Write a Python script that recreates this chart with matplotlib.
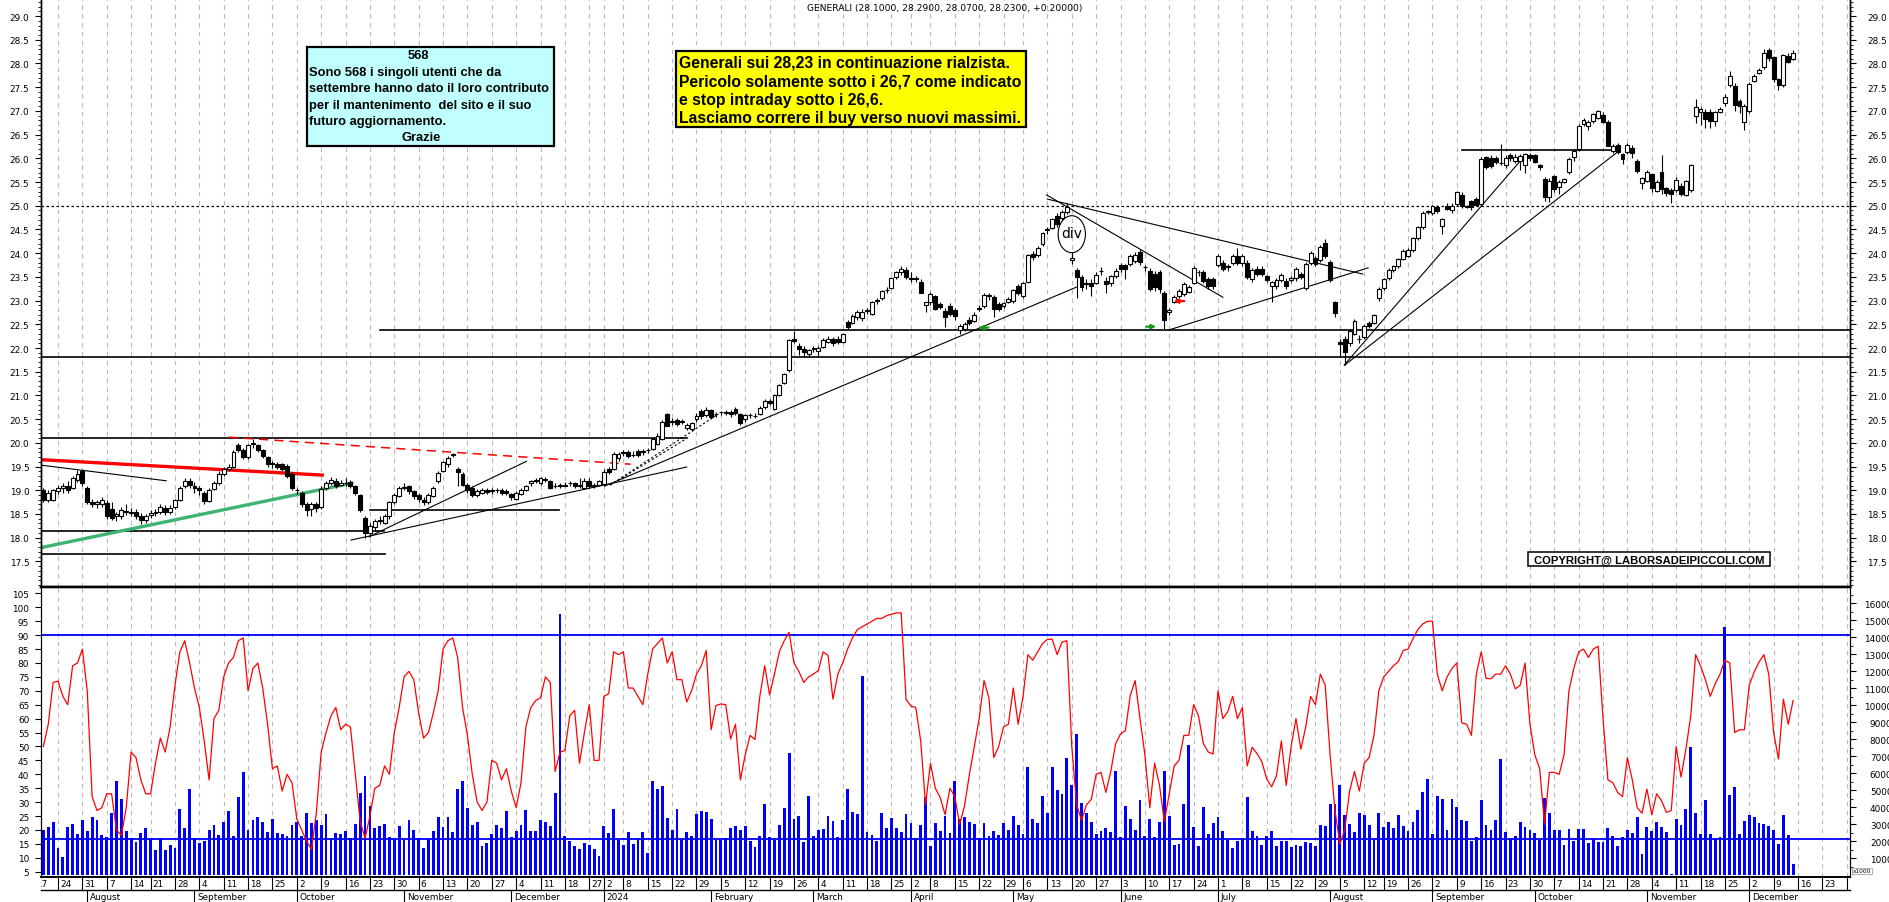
import numpy as np
import pandas as pd
import matplotlib
matplotlib.use("Agg")
import matplotlib.pyplot as plt
import matplotlib.transforms as mtransforms
from matplotlib import font_manager
from matplotlib.patches import Ellipse, Rectangle
from matplotlib.lines import Line2D

# ---------------- data ----------------
holidays = ["2023-08-15", "2023-12-25", "2023-12-26", "2024-01-01", "2024-03-29",
            "2024-04-01", "2024-05-01", "2024-08-15"]

# one row per week, Jul 19 2023 -> Dec 13 2024
opens = [
    19.00, 18.80, 18.80,
    18.98, 19.05, 19.10, 19.05, 19.22,
    19.40, 19.05, 18.75, 18.70, 18.72,
    18.74, 18.60, 18.45, 18.45, 18.55,
    18.55, 18.55, 18.45, 18.38,
    18.48, 18.52, 18.55, 18.62, 18.55,
    18.65, 18.80, 19.08, 19.20, 19.10,
    19.05, 18.95, 18.78, 19.02, 19.15,
    19.35, 19.45, 19.50, 19.95, 19.85,
    19.70, 19.98, 19.95, 19.85, 19.70,
    19.58, 19.55, 19.55, 19.52, 19.35,
    19.00, 18.95, 18.72, 18.60, 18.72,
    18.65, 19.05, 19.15, 19.20, 19.12,
    19.15, 19.18, 19.10, 18.90, 18.42,
    18.10, 18.22, 18.35, 18.32, 18.45,
    18.75, 18.88, 19.05, 19.10, 18.98,
    18.90, 18.80, 18.75, 18.88, 19.20,
    19.40, 19.55, 19.75, 19.45, 19.35,
    19.12, 19.05, 18.90, 18.95, 19.00,
    18.98, 19.00, 19.00, 18.98, 18.92,
    18.82, 18.92, 19.00, 19.15, 19.20,
    19.15, 19.22, 19.20, 19.08, 19.10,
    19.10, 19.15, 19.15, 19.08, 19.05,
    19.20, 19.10, 19.12,
    19.13, 19.45, 19.45, 19.68,
    19.78, 19.80, 19.74, 19.82, 19.80,
    19.84, 19.87, 19.98, 20.08, 20.60,
    20.44, 20.48, 20.44, 20.32, 20.30,
    20.50, 20.68, 20.58, 20.70, 20.60,
    20.64, 20.63, 20.65, 20.72, 20.60,
    20.50, 20.58, 20.56, 20.60, 20.75,
    20.88, 20.72, 21.00, 21.27, 21.54,
    22.20, 22.05, 21.98, 21.88, 21.97,
    21.93, 22.02, 22.13, 22.20, 22.20,
    22.12, 22.55, 22.52, 22.65, 22.63,
    22.78, 22.72, 23.00, 23.05, 23.22,
    23.27, 23.50, 23.60, 23.65,
    23.45, 23.47, 23.40, 22.90,
    22.96, 23.10, 22.93, 22.79, 22.89,
    22.80, 22.37, 22.40, 22.60, 22.58,
    22.85, 22.89, 23.10, 23.08, 22.93,
    22.89, 22.98, 23.00, 23.30,
    23.09, 23.40, 23.98, 23.96, 24.19,
    24.48, 24.54, 24.79, 24.75, 24.86,
    23.86, 23.64, 23.49, 23.36, 23.38,
    23.38, 23.62, 23.42, 23.38, 23.52,
    23.75, 23.75, 23.77, 23.84, 24.02,
    23.70, 23.63, 23.56, 23.60, 23.17,
    22.76, 22.98, 23.10, 23.14, 23.19,
    23.38, 23.60, 23.61, 23.45, 23.45,
    23.74, 23.79, 23.70, 23.80, 23.95,
    23.79, 23.80, 23.45, 23.67, 23.67,
    23.51, 23.31, 23.30, 23.43, 23.42,
    23.43, 23.47, 23.56, 23.26, 23.79,
    23.90, 23.86, 24.21, 23.81, 22.96,
    22.12, 22.19, 22.10, 22.30, 22.20,
    22.23, 22.53, 22.53, 23.05,
    23.26, 23.47, 23.64, 23.72, 23.88,
    23.95, 24.06, 24.32, 24.56, 24.86,
    24.85, 24.97, 24.58, 25.00, 24.90,
    25.04, 25.23, 24.98, 25.10, 25.14,
    25.04, 26.02, 26.00, 26.00, 25.90,
    25.85, 26.07, 25.95, 25.95, 25.85,
    26.07, 26.07, 25.85, 25.56, 25.18,
    25.62, 25.39, 25.51, 25.72, 26.02,
    26.20, 26.72, 26.68, 26.79, 26.86,
    26.91, 26.77, 26.16, 26.28, 26.09,
    26.14, 26.21, 25.94, 25.48, 25.53,
    25.67, 25.32, 25.72, 25.37, 25.34,
    25.34, 25.42, 25.23, 25.34, 26.90,
    26.98, 26.98, 26.97, 26.79, 26.98,
    27.17, 27.55, 27.52, 27.20, 26.77,
    27.00, 27.64, 27.81, 27.92, 28.29,
    28.13, 27.67, 27.55, 28.16, 28.10,
]
highs = [
    19.05, 19.00, 19.02,
    19.12, 19.15, 19.20, 19.30, 19.42,
    19.42, 19.08, 18.82, 18.80, 18.85,
    18.80, 18.75, 18.55, 18.65, 18.70,
    18.62, 18.60, 18.52, 18.50,
    18.58, 18.60, 18.72, 18.68, 18.68,
    18.82, 19.10, 19.25, 19.25, 19.18,
    19.10, 18.98, 19.05, 19.20, 19.40,
    19.50, 19.55, 19.85, 20.00, 19.90,
    19.98, 20.08, 19.98, 19.88, 19.72,
    19.62, 19.60, 19.58, 19.55, 19.38,
    19.05, 18.98, 18.75, 18.75, 18.75,
    19.08, 19.20, 19.28, 19.25, 19.22,
    19.25, 19.22, 19.12, 18.92, 18.45,
    18.30, 18.40, 18.45, 18.50, 18.78,
    18.95, 19.08, 19.15, 19.12, 19.00,
    18.95, 18.85, 18.95, 19.08, 19.40,
    19.62, 19.72, 19.78, 19.50, 19.38,
    19.15, 19.08, 19.02, 19.05, 19.05,
    19.05, 19.05, 19.05, 19.02, 18.95,
    18.98, 19.05, 19.12, 19.22, 19.25,
    19.28, 19.28, 19.22, 19.15, 19.15,
    19.18, 19.20, 19.18, 19.25, 19.25,
    19.25, 19.15, 19.22,
    19.45, 19.50, 19.80, 19.80,
    19.85, 19.85, 19.82, 19.86, 19.88,
    19.90, 20.12, 20.20, 20.48, 20.62,
    20.52, 20.52, 20.50, 20.42, 20.45,
    20.62, 20.72, 20.75, 20.72, 20.65,
    20.68, 20.70, 20.70, 20.75, 20.62,
    20.60, 20.62, 20.62, 20.78, 20.92,
    20.92, 21.02, 21.25, 21.48, 22.20,
    22.35, 22.10, 22.05, 21.98, 22.05,
    22.05, 22.22, 22.25, 22.24, 22.25,
    22.32, 22.60, 22.72, 22.80, 22.82,
    22.84, 23.00, 23.05, 23.22, 23.28,
    23.50, 23.62, 23.73, 23.70,
    23.60, 23.52, 23.45, 22.98,
    23.18, 23.12, 22.98, 22.85, 22.95,
    22.85, 22.50, 22.55, 22.65, 22.75,
    22.90, 23.15, 23.15, 23.12, 22.98,
    22.98, 23.08, 23.25, 23.35,
    23.40, 23.98, 24.05, 24.15, 24.45,
    24.55, 24.75, 24.85, 24.90, 25.05,
    23.98, 23.68, 23.55, 23.45, 23.45,
    23.60, 23.70, 23.50, 23.55, 23.68,
    23.80, 23.78, 23.98, 24.02, 24.08,
    23.75, 23.68, 23.62, 23.65, 23.20,
    22.85, 23.12, 23.25, 23.40, 23.32,
    23.72, 23.65, 23.65, 23.50, 23.50,
    23.98, 23.85, 23.78, 23.98, 24.10,
    23.98, 23.85, 23.68, 23.72, 23.72,
    23.55, 23.42, 23.48, 23.58, 23.48,
    23.52, 23.70, 23.60, 23.82, 24.05,
    23.95, 24.18, 24.30, 23.85, 23.00,
    22.20, 22.25, 22.40, 22.62, 22.28,
    22.50, 22.58, 22.72, 23.28,
    23.48, 23.68, 23.75, 23.90, 24.08,
    24.10, 24.35, 24.58, 24.88, 24.92,
    25.02, 25.02, 24.75, 25.05, 25.05,
    25.32, 25.28, 25.02, 25.12, 25.18,
    26.02, 26.05, 26.08, 26.05, 26.30,
    26.08, 26.12, 26.10, 26.10, 26.12,
    26.12, 26.10, 25.88, 25.60, 25.58,
    25.65, 25.55, 25.58, 26.02, 26.20,
    26.72, 26.85, 26.80, 26.95, 27.02,
    26.98, 26.80, 26.30, 26.32, 26.12,
    26.32, 26.28, 25.98, 25.60, 25.75,
    25.70, 25.55, 26.08, 25.40, 25.38,
    25.60, 25.48, 25.55, 25.88, 27.25,
    27.08, 27.05, 27.05, 27.00, 27.08,
    27.35, 27.85, 27.58, 27.25, 27.15,
    27.62, 27.78, 27.90, 28.30, 28.32,
    28.15, 27.70, 28.20, 28.22, 28.29,
]
lows = [
    18.75, 18.75, 18.78,
    18.92, 18.95, 18.95, 19.02, 19.18,
    19.10, 18.70, 18.65, 18.62, 18.65,
    18.40, 18.38, 18.35, 18.40, 18.48,
    18.45, 18.40, 18.28, 18.30,
    18.42, 18.45, 18.50, 18.48, 18.50,
    18.60, 18.78, 19.05, 19.05, 18.95,
    18.90, 18.70, 18.75, 19.00, 19.12,
    19.30, 19.40, 19.48, 19.80, 19.65,
    19.65, 19.90, 19.80, 19.68, 19.50,
    19.48, 19.45, 19.40, 19.25, 19.00,
    18.92, 18.65, 18.45, 18.45, 18.55,
    18.60, 19.00, 19.12, 19.05, 19.08,
    19.10, 19.05, 18.90, 18.55, 18.00,
    18.02, 18.15, 18.28, 18.28, 18.40,
    18.70, 18.85, 19.00, 18.92, 18.82,
    18.75, 18.68, 18.72, 18.85, 19.15,
    19.38, 19.50, 19.70, 19.10, 19.10,
    18.95, 18.85, 18.85, 18.92, 18.92,
    18.92, 18.95, 18.90, 18.90, 18.80,
    18.80, 18.90, 18.98, 19.10, 19.15,
    19.12, 19.18, 19.02, 19.05, 19.05,
    19.08, 19.10, 19.05, 19.05, 19.02,
    19.05, 19.05, 19.08,
    19.10, 19.35, 19.42, 19.62,
    19.72, 19.68, 19.70, 19.70, 19.75,
    19.78, 19.85, 19.95, 20.05, 20.35,
    20.38, 20.35, 20.40, 20.28, 20.25,
    20.45, 20.50, 20.55, 20.50, 20.55,
    20.58, 20.58, 20.55, 20.58, 20.38,
    20.45, 20.52, 20.52, 20.58, 20.72,
    20.80, 20.70, 20.98, 21.25, 21.50,
    22.10, 21.85, 21.80, 21.80, 21.92,
    21.80, 22.00, 22.10, 22.05, 22.08,
    22.10, 22.40, 22.50, 22.60, 22.58,
    22.72, 22.70, 22.92, 23.02, 23.15,
    23.25, 23.45, 23.55, 23.45,
    23.40, 23.40, 23.15, 22.75,
    22.90, 22.80, 22.82, 22.45, 22.68,
    22.60, 22.30, 22.35, 22.48, 22.55,
    22.78, 22.85, 23.02, 22.65, 22.78,
    22.85, 22.95, 22.95, 23.12,
    23.05, 23.38, 23.85, 23.92, 24.15,
    24.40, 24.50, 24.55, 24.70, 24.82,
    23.78, 23.05, 23.20, 23.25, 23.10,
    23.35, 23.55, 23.15, 23.30, 23.48,
    23.60, 23.45, 23.72, 23.80, 23.75,
    23.62, 23.20, 23.20, 23.15, 22.38,
    22.70, 22.95, 23.05, 23.10, 23.15,
    23.35, 23.52, 23.38, 23.25, 23.25,
    23.70, 23.62, 23.62, 23.75, 23.75,
    23.72, 23.45, 23.40, 23.52, 23.52,
    23.40, 22.98, 23.25, 23.40, 23.25,
    23.40, 23.42, 23.45, 23.22, 23.75,
    23.72, 23.82, 23.90, 23.40, 22.65,
    21.80, 21.65, 22.05, 22.28, 22.10,
    22.20, 22.42, 22.50, 23.00,
    23.22, 23.44, 23.60, 23.68, 23.85,
    23.92, 24.02, 24.28, 24.52, 24.82,
    24.80, 24.85, 24.40, 24.90, 24.85,
    25.00, 24.95, 24.95, 24.92, 25.00,
    25.00, 25.78, 25.80, 25.88, 25.85,
    25.80, 25.95, 25.90, 25.75, 25.70,
    25.95, 25.90, 25.75, 25.10, 25.08,
    25.30, 25.25, 25.48, 25.68, 25.95,
    26.15, 26.68, 26.60, 26.75, 26.82,
    26.75, 26.25, 26.12, 26.10, 25.88,
    26.10, 26.00, 25.70, 25.35, 25.50,
    25.30, 25.28, 25.25, 25.20, 25.05,
    25.30, 25.20, 25.20, 25.30, 26.75,
    26.70, 26.65, 26.65, 26.68, 26.95,
    27.10, 27.50, 27.00, 26.95, 26.60,
    26.95, 27.60, 27.78, 27.88, 28.05,
    27.62, 27.45, 27.50, 28.00, 28.07,
]
closes = [
    18.80, 18.95, 19.00,
    19.05, 19.10, 19.00, 19.25, 19.35,
    19.15, 18.75, 18.72, 18.75, 18.80,
    18.46, 18.42, 18.50, 18.58, 18.55,
    18.52, 18.45, 18.38, 18.45,
    18.52, 18.55, 18.65, 18.55, 18.62,
    18.80, 19.05, 19.20, 19.12, 19.05,
    19.00, 18.78, 19.00, 19.15, 19.35,
    19.45, 19.50, 19.80, 19.85, 19.70,
    19.95, 20.00, 19.85, 19.72, 19.55,
    19.55, 19.50, 19.45, 19.30, 19.05,
    19.00, 18.72, 18.58, 18.70, 18.62,
    19.03, 19.15, 19.22, 19.10, 19.15,
    19.15, 19.10, 18.95, 18.58, 18.10,
    18.25, 18.35, 18.38, 18.45, 18.75,
    18.90, 19.05, 19.05, 18.98, 18.88,
    18.82, 18.75, 18.90, 19.05, 19.37,
    19.60, 19.68, 19.75, 19.38, 19.12,
    19.00, 18.90, 18.98, 19.00, 18.97,
    19.00, 19.00, 18.95, 18.95, 18.85,
    18.95, 19.00, 19.10, 19.20, 19.22,
    19.25, 19.22, 19.05, 19.10, 19.10,
    19.12, 19.15, 19.10, 19.12, 19.20,
    19.10, 19.12, 19.20,
    19.38, 19.38, 19.77, 19.77,
    19.80, 19.72, 19.75, 19.75, 19.82,
    19.85, 20.08, 20.15, 20.43, 20.36,
    20.45, 20.40, 20.45, 20.37, 20.42,
    20.56, 20.56, 20.70, 20.55, 20.60,
    20.65, 20.65, 20.60, 20.62, 20.42,
    20.58, 20.58, 20.57, 20.73, 20.88,
    20.85, 21.00, 21.22, 21.45, 22.16,
    22.15, 21.97, 21.92, 21.95, 21.99,
    22.00, 22.17, 22.20, 22.10, 22.12,
    22.30, 22.44, 22.67, 22.75, 22.76,
    22.78, 22.98, 23.00, 23.20, 23.23,
    23.47, 23.60, 23.67, 23.50,
    23.48, 23.45, 23.17, 22.96,
    23.13, 22.83, 22.86, 22.65, 22.72,
    22.68, 22.46, 22.50, 22.53, 22.70,
    22.82, 23.12, 23.10, 22.82, 22.82,
    22.95, 23.03, 23.23, 23.17,
    23.37, 23.96, 23.91, 24.10, 24.42,
    24.50, 24.72, 24.61, 24.87, 24.97,
    23.90, 23.49, 23.28, 23.38, 23.30,
    23.55, 23.63, 23.35, 23.52, 23.63,
    23.67, 23.67, 23.93, 23.96, 23.81,
    23.70, 23.24, 23.28, 23.24, 22.60,
    22.80, 23.07, 23.21, 23.35, 23.28,
    23.68, 23.60, 23.42, 23.31, 23.30,
    23.95, 23.66, 23.72, 23.95, 23.79,
    23.93, 23.50, 23.64, 23.57, 23.57,
    23.43, 23.39, 23.44, 23.54, 23.30,
    23.48, 23.66, 23.50, 23.78, 24.00,
    23.78, 24.13, 23.93, 23.44, 22.74,
    22.08, 21.91, 22.35, 22.58, 22.18,
    22.47, 22.47, 22.70, 23.24,
    23.45, 23.64, 23.72, 23.88, 24.04,
    24.07, 24.32, 24.55, 24.85, 24.88,
    25.00, 24.88, 24.72, 24.93, 25.00,
    25.30, 25.00, 24.98, 24.97, 25.02,
    25.98, 25.81, 25.83, 25.92, 25.90,
    26.00, 26.00, 26.02, 26.05, 26.10,
    26.00, 25.92, 25.82, 25.18, 25.53,
    25.35, 25.51, 25.56, 25.99, 26.16,
    26.69, 26.80, 26.76, 26.93, 27.00,
    26.77, 26.27, 26.27, 26.13, 25.99,
    26.28, 26.11, 25.74, 25.58, 25.71,
    25.37, 25.51, 25.35, 25.27, 25.25,
    25.55, 25.25, 25.53, 25.85, 27.08,
    27.04, 26.83, 26.79, 26.97, 27.04,
    27.29, 27.73, 27.12, 27.11, 27.10,
    27.57, 27.73, 27.87, 28.23, 28.11,
    27.67, 27.55, 28.18, 28.03, 28.23,
]

# oscillator (left scale of the lower panel)
oscillator = [
    50, 58, 73,
    73.5, 68, 65, 79, 80,
    85, 70, 32, 27, 28,
    33, 33, 20, 18, 28,
    48, 46, 38, 33,
    33, 44, 53, 48, 57,
    72, 84, 88, 80, 71,
    64, 52, 38, 60, 63,
    75, 80, 82, 88, 89,
    70, 78, 80, 71, 58,
    42, 43, 34, 40, 37,
    24, 20, 16, 13, 26,
    48, 55, 61, 64, 56,
    58, 57, 40, 23, 17,
    25, 35, 36, 43, 40,
    55, 64, 75, 77, 74,
    62, 53, 55, 62, 70,
    85, 88, 89, 82, 64,
    54, 40, 30, 27, 30,
    45, 44, 38, 42, 34,
    28, 37, 57, 64, 66.5,
    67.5, 75, 73, 41, 48,
    48.5, 61, 63, 44, 55,
    65, 45, 45,
    68, 69, 84, 83,
    84, 71, 71, 68, 65,
    76, 85, 87, 89, 80,
    84, 74, 74, 66, 70,
    76, 79, 84.5, 56, 64.7,
    65.3, 65, 52.7, 58, 38,
    47, 54, 52.5, 68, 79,
    68.5, 76, 84, 88, 91,
    80, 77, 73, 75, 76,
    77.3, 84, 82.7, 67, 76,
    80, 85, 89, 92, 93,
    94, 95, 96, 96, 97,
    97.5, 98, 98, 67,
    64.5, 64, 52, 29,
    44, 35, 31.7, 25.5, 35,
    32, 22, 28.7, 40, 50,
    60, 73.7, 67.5, 46, 50,
    57, 58, 71, 58,
    68, 83, 81, 84, 87,
    88.5, 88.5, 83, 87.5, 88,
    50, 29, 23.5, 29, 31,
    40, 40.7, 33.5, 41, 51,
    54.5, 55.7, 68.3, 73.7, 60,
    47, 28, 44, 36, 23,
    33, 43, 45, 54, 54,
    65, 61, 51, 48, 47.3,
    70, 60, 62.5, 68, 60,
    64, 43, 49.7, 47.5, 44.5,
    38.3, 35.5, 39.5, 52, 36,
    50, 60, 49, 57, 68,
    65, 76, 72, 47, 27,
    15, 20, 34, 41, 34,
    44, 46, 54, 70,
    75, 77, 79, 80.5, 84.5,
    85, 88.7, 92, 94, 95,
    95, 76, 70, 75, 78,
    80, 58.5, 58, 54, 76,
    84, 74.5, 74.3, 76, 76,
    79, 76, 70.7, 72, 80,
    58, 47, 42, 22, 40.7,
    40.7, 40, 47, 70, 78,
    84, 85, 82, 85, 86,
    60, 38, 37, 33.5, 32,
    46, 38, 28, 26, 34.7,
    25.5, 33, 30.5, 26.3, 27,
    50, 39, 49, 61, 83,
    79, 74, 68, 72.5, 76,
    81, 80, 55, 56, 56,
    72, 76.7, 80.3, 83, 76,
    55, 45.5, 67, 58, 66.5,
]

# volume, millions of shares (right scale shows thousands)
volume_m = [
    2.70, 2.86, 3.17,
    1.62, 1.07, 2.86, 3.01, 2.43,
    3.25, 2.63, 3.44, 3.25, 2.35,
    2.28, 3.69, 5.53, 4.50, 2.63,
    2.18, 1.99, 2.47, 2.78,
    2.12, 1.52, 2.12, 1.50, 1.81,
    1.62, 3.90, 2.82, 5.09, 2.18,
    1.89, 2.00, 2.65, 2.97, 2.35,
    3.17, 3.79, 2.30, 4.60, 6.11,
    2.68, 3.25, 3.46, 3.17, 2.53,
    3.34, 2.47, 2.41, 2.34, 2.97,
    3.17, 2.34, 3.69, 3.09, 3.27,
    2.96, 3.63, 2.18, 2.49, 2.41,
    2.63, 2.18, 3.05, 4.86, 5.84,
    4.08, 2.80, 2.90, 3.01, 2.28,
    2.14, 2.90, 2.06, 3.25, 2.67,
    2.18, 1.60, 2.12, 2.59, 3.44,
    2.86, 3.44, 2.57, 5.07, 5.53,
    3.94, 2.97, 3.17, 1.75, 1.89,
    2.43, 2.97, 2.82, 3.79, 2.24,
    2.59, 2.97, 3.83, 2.63, 2.63,
    3.25, 3.17, 2.92, 4.86, 15.40,
    2.34, 2.00, 1.75, 1.56, 1.89,
    1.81, 1.56, 1.13,
    2.88, 2.47, 3.90, 2.08,
    1.81, 2.57, 1.85, 2.18, 2.53,
    1.31, 5.53, 5.09, 5.28, 3.40,
    2.66, 3.89, 2.10, 2.53, 2.34,
    3.63, 3.79, 3.73, 3.30, 2.10,
    2.10, 2.18, 2.78, 2.92, 2.66,
    2.92, 2.00, 1.66, 2.34, 4.18,
    2.28, 2.08, 2.97, 3.94, 7.18,
    3.30, 3.50, 1.99, 4.66, 2.34,
    2.66, 2.72, 3.50, 3.19, 2.24,
    3.25, 5.09, 3.75, 3.59, 11.70,
    2.53, 2.39, 2.00, 3.65, 2.78,
    3.38, 2.82, 2.57, 3.63,
    3.07, 2.18, 2.97, 4.60,
    1.75, 3.09, 2.63, 3.50, 2.47,
    5.53, 3.30, 3.44, 3.15, 3.01,
    2.18, 3.11, 2.30, 2.63, 2.37,
    3.11, 2.66, 3.50, 2.97,
    2.43, 6.37, 3.30, 3.07, 4.66,
    3.69, 6.37, 5.01, 4.80, 6.89,
    5.34, 8.34, 4.27, 3.69, 3.15,
    2.43, 2.63, 2.82, 2.57, 6.17,
    2.24, 4.08, 3.30, 2.68, 4.43,
    2.34, 3.30, 2.28, 3.15, 6.17,
    3.48, 1.81, 1.85, 4.18, 7.67,
    2.86, 1.75, 4.04, 2.43, 3.11,
    3.44, 2.63, 2.08, 1.62, 2.00,
    2.14, 4.60, 2.63, 2.30, 1.81,
    2.34, 2.63, 1.72, 2.04, 2.04,
    1.66, 1.81, 1.72, 1.95, 1.89,
    1.75, 2.97, 2.92, 4.23, 4.23,
    5.34, 3.56, 3.05, 2.57, 3.69,
    3.56, 2.97, 2.10, 3.69,
    2.86, 3.15, 2.82, 3.56, 2.92,
    2.63, 3.17, 3.85, 4.91, 5.69,
    2.43, 4.66, 4.50, 2.68, 4.50,
    4.04, 3.27, 3.21, 2.04, 2.24,
    4.43, 2.97, 2.66, 3.25, 6.85,
    2.53, 2.14, 2.34, 3.17, 2.86,
    2.66, 2.47, 2.08, 4.56, 3.69,
    2.68, 2.68, 1.81, 2.72, 2.00,
    2.76, 2.76, 1.91, 2.14, 1.95,
    1.99, 2.82, 2.30, 1.75, 2.24,
    2.68, 2.49, 3.44, 1.27, 2.86,
    2.63, 3.15, 2.86, 2.53, 0.07,
    3.34, 2.96, 3.92, 7.57, 3.65,
    2.43, 4.43, 2.43, 2.14, 2.24,
    14.60, 4.76, 5.20, 2.43, 3.21,
    3.56, 3.46, 3.11, 3.01, 2.88,
    2.66, 1.85, 3.56, 2.37, 0.70,
]

# levels drawn on the chart: (price, from trading-day, to trading-day)
h_levels = [(22.38, 66.1, 368), (21.81, -4, 368), (20.10, -4, 129.0),
            (18.14, -4, 66.9), (17.65, -4, 67.0), (18.58, 64.0, 102.8),
            (26.18, 288.1, 319.9)]
# trend lines: (x0, p0, x1, p1)
black_lines = [(-3.5, 19.53, 22.2, 19.20), (60.1, 17.95, 129.0, 19.49),
               (63.8, 18.02, 96.1, 19.61), (112.2, 19.09, 209.1, 23.29),
               (202.8, 25.23, 239.0, 23.07), (203.0, 25.14, 267.7, 23.56),
               (227.9, 22.38, 268.8, 23.69), (263.9, 21.64, 299.8, 25.92),
               (264.0, 21.64, 320.3, 26.16)]
dashed_lines = [(113.3, 19.11, 128.8, 20.08), (113.3, 19.11, 135.2, 20.59)]
red_line = (-3.5, 19.645, 54.2, 19.32)
red_dashed = (35.0, 20.12, 117.5, 19.55)
green_line = (-3.5, 17.79, 60.3, 19.15)
osc_level = 90
vol_level = 2120

title = "GENERALI (28.1000, 28.2900, 28.0700, 28.2300, +0.20000)"
note_cyan = ["Sono 568 i singoli utenti che da",
             "settembre hanno dato il loro contributo",
             "per il mantenimento  del sito e il suo",
             "futuro aggiornamento."]
note_yellow = ["Generali sui 28,23 in continuazione rialzista.",
               "Pericolo solamente sotto i 26,7 come indicato",
               "e stop intraday sotto i 26,6.",
               "Lasciamo correre il buy verso nuovi massimi."]

# ---------------- calendar ----------------
days = pd.bdate_range("2023-07-19", "2024-12-13")
days = days[~days.isin(pd.to_datetime(holidays))]
future = pd.bdate_range("2024-12-16", "2024-12-31")
all_days = days.append(future)
n = len(closes)
x = np.arange(n) - 3
x_all = np.arange(len(all_days)) - 3

iso = all_days.isocalendar()
wk_key = iso["year"].astype(str) + "-" + iso["week"].astype(str)
week_first = ~wk_key.duplicated().values
week_pos = list(x_all[week_first].astype(float))
week_lab = [str(d.day) for d in all_days[week_first]]
# the first week starts before the data (Monday 17 July)
wd0 = all_days[0].weekday()
week_pos[0] -= wd0
week_lab[0] = str(all_days[0].day - wd0)

mon_key = all_days.strftime("%Y-%m")
mon_first = ~pd.Series(mon_key).duplicated().values
mon_first[0] = False
mon_pos = x_all[mon_first]
mon_lab = ["2024" if d.month == 1 else d.strftime("%B") for d in all_days[mon_first]]

# ---------------- figure ----------------
W, H = 1890, 903
fig = plt.figure(figsize=(W / 100, H / 100), dpi=100)
fig.patch.set_facecolor("white")

def fx(px):
    return px / W

def fy(py):
    return 1 - py / H

XL = (-3.488, 367.67)
ax = fig.add_axes([fx(41), fy(588), fx(1850) - fx(41), fy(0) - fy(588)])
axl = fig.add_axes([fx(41), fy(878), fx(1850) - fx(41), fy(588) - fy(878)])
axo = axl.twinx()
axr = ax.twinx()

tick_font = dict(family="DejaVu Sans", size=6.4)
names = {f.name for f in font_manager.fontManager.ttflist}
if "Liberation Sans Narrow" in names:
    cyan_font = dict(family="Liberation Sans Narrow", size=10.5, weight="bold")
else:
    cyan_font = dict(family="Liberation Sans", size=9.3, weight="bold")

grid_kw = dict(color="#b8b8b8", lw=0.8, ls=(0, (4, 4)), zorder=0)
for a in (ax, axl):
    for p in week_pos:
        a.axvline(p, **grid_kw)
    a.set_xlim(*XL)
    a.tick_params(axis="x", which="both", bottom=False, top=False,
                  labelbottom=False)
for a in (axo, axr):
    a.set_xlim(*XL)
    a.tick_params(axis="x", which="both", bottom=False, top=False,
                  labelbottom=False)

# ---- price panel ----
o = np.array(opens); h = np.array(highs); l = np.array(lows); c = np.array(closes)
up = c >= o
ax.vlines(x, l, h, color="black", lw=0.8, zorder=3)
ax.bar(x, np.maximum(np.abs(c - o), 0.012), bottom=np.minimum(o, c), width=0.8,
       color=np.where(up, "white", "black"), edgecolor="black", linewidth=0.8,
       zorder=4)

ax.axhline(25.0, color="black", lw=0.9, ls=(0, (2, 2)), zorder=2)
for p, a0, a1 in h_levels:
    ax.plot([a0, a1], [p, p], color="black", lw=1.2, zorder=2)
for x0, p0, x1, p1 in black_lines:
    ax.plot([x0, x1], [p0, p1], color="black", lw=0.8, zorder=2)
for x0, p0, x1, p1 in dashed_lines:
    ax.plot([x0, x1], [p0, p1], color="black", lw=0.8, ls=(0, (2, 2)), zorder=2)
ax.plot(red_line[0::2], red_line[1::2], color="#ff0000", lw=2.4, zorder=2)
ax.plot(red_dashed[0::2], red_dashed[1::2], color="#ff0000", lw=1.1,
        ls=(0, (6, 4)), zorder=2)
ax.plot(green_line[0::2], green_line[1::2], color="#3cb371", lw=2.4, zorder=2)

# div marker
ax.add_patch(Ellipse((208.0, 24.40), 5.6, 0.78, fill=False, ec="black", lw=0.8,
                     zorder=5))
ax.text(208.0, 24.42, "div", ha="center", va="center", fontsize=10,
        family="DejaVu Sans", zorder=6)
ax.plot([208.0, 208.0], [24.01, 23.93], color="black", lw=0.8, zorder=5)

arrow_kw = dict(arrowstyle="-|>", lw=1.6, mutation_scale=6, shrinkA=0, shrinkB=0)
ax.annotate("", xy=(188.9, 22.43), xytext=(190.9, 22.43),
            arrowprops=dict(color="#129a12", **arrow_kw), zorder=6)
ax.annotate("", xy=(225.3, 22.45), xytext=(223.3, 22.45),
            arrowprops=dict(color="#129a12", **arrow_kw), zorder=6)
ax.annotate("", xy=(228.9, 22.99), xytext=(231.1, 22.99),
            arrowprops=dict(color="#ff0000", **arrow_kw), zorder=6)

YL = (16.96, 29.36)
price_ticks = np.arange(17.5, 29.01, 0.5)
for a in (ax, axr):
    a.set_ylim(*YL)
    a.set_yticks(price_ticks)
    a.set_yticks(np.arange(17.0, 29.31, 0.1), minor=True)
    a.set_yticklabels(["%.1f" % v for v in price_ticks], **tick_font)
ax.tick_params(axis="y", which="major", direction="out", length=4, width=0.8,
               pad=4.5, left=True, right=False)
ax.tick_params(axis="y", which="minor", direction="out", length=2, width=0.6,
               left=True, right=False)
axr.tick_params(axis="y", which="major", direction="out", length=4, width=0.8,
                pad=8.5)
axr.tick_params(axis="y", which="minor", direction="out", length=2, width=0.6)
ax.spines["top"].set_visible(False)
axr.spines["top"].set_visible(False)
for a in (ax, axr):
    for s in ("left", "right"):
        a.spines[s].set_linewidth(1.0)
    a.spines["bottom"].set_linewidth(1.6)

# ---- lower panel ----
axl.bar(x, np.array(volume_m) * 1000, width=0.58, color="#0000ff", zorder=2)
axl.axhline(vol_level, color="#0000ff", lw=1.3, zorder=3)
axl.set_ylim(-90, 16960)
axl.yaxis.tick_right()
vt = np.arange(1000, 16001, 1000)
axl.set_yticks(vt)
axl.set_yticks(np.arange(500, 16501, 500), minor=True)
axl.set_yticklabels([str(v) for v in vt], ha="right", **tick_font)
axl.tick_params(axis="y", which="major", direction="out", length=4, width=0.8,
                pad=26.5, left=False, right=True)
axl.tick_params(axis="y", which="minor", direction="out", length=2, width=0.6,
                left=False, right=True)

axo.plot(x, oscillator, color="#ff0000", lw=0.9, zorder=4)
axo.axhline(osc_level, color="#0000ff", lw=1.3, zorder=3)
axo.set_ylim(3.1, 107.3)
axo.yaxis.tick_left()
ot = np.arange(5, 106, 5)
axo.set_yticks(ot)
axo.set_yticklabels([str(v) for v in ot], **tick_font)
axo.tick_params(axis="y", which="major", direction="out", length=4, width=0.8,
                pad=4.5, left=True, right=False)
for a in (axl, axo):
    a.spines["top"].set_linewidth(1.6)
    a.spines["bottom"].set_linewidth(1.2)

# ---- date axis ----
btr = mtransforms.blended_transform_factory(axl.transData, fig.transFigure)
clip = mtransforms.TransformedBbox(
    mtransforms.Bbox([[fx(41), 0], [fx(1850), 1]]), fig.transFigure)
for p, lab in zip(week_pos, week_lab):
    if p >= XL[0]:
        fig.add_artist(Line2D([p, p], [fy(878), fy(891)], transform=btr,
                              color="black", lw=0.8))
    t = axl.text(p + 0.45, fy(885), lab, transform=btr, ha="left", va="center",
                 clip_on=True, **tick_font)
    t.set_clip_box(clip)
fig.add_artist(Line2D([fx(41), fx(1850)], [fy(891), fy(891)],
                      transform=fig.transFigure, color="black", lw=1.0))
for p, lab in zip(mon_pos, mon_lab):
    fig.add_artist(Line2D([p, p], [fy(891), fy(903)], transform=btr,
                          color="black", lw=0.8))
    t = axl.text(p + 0.6, fy(897.5), lab, transform=btr, ha="left",
                 va="center", clip_on=True, **tick_font)
    t.set_clip_box(clip)

fig.text(fx(1853), fy(872), "x1000", fontsize=4.2, family="DejaVu Sans",
         ha="left", va="center",
         bbox=dict(boxstyle="square,pad=0.15", fc="white", ec="#909090", lw=0.5))

# ---- title and notes ----
fig.text(0.5, fy(8), title, ha="center", va="center", family="DejaVu Sans",
         fontsize=6.6)

fig.add_artist(Rectangle((fx(307), fy(147)), fx(554) - fx(307), fy(48) - fy(147),
                         transform=fig.transFigure, fc="#bfffff", ec="black",
                         lw=1.6, zorder=5))
fig.text(fx(418), fy(56), "568", ha="center", va="center", zorder=6, **cyan_font)
for i, line in enumerate(note_cyan):
    fig.text(fx(309), fy(73 + 16.3 * i), line, ha="left", va="center", zorder=6,
             **cyan_font)
fig.text(fx(421), fy(138), "Grazie", ha="center", va="center", zorder=6,
         **cyan_font)

fig.add_artist(Rectangle((fx(676), fy(128)), fx(1026) - fx(676), fy(52) - fy(128),
                         transform=fig.transFigure, fc="#ffff00", ec="black",
                         lw=1.6, zorder=5))
for i, line in enumerate(note_yellow):
    fig.text(fx(679), fy(63 + 18.6 * i), line, ha="left", va="center", zorder=6,
             family="Liberation Sans", fontsize=11.3, weight="bold")

fig.add_artist(Rectangle((fx(1528), fy(567)), fx(1770) - fx(1528), fy(553) - fy(567),
                         transform=fig.transFigure, fc="white", ec="black",
                         lw=1.1, zorder=5))
fig.text(fx(1649), fy(560.5), "COPYRIGHT@ LABORSADEIPICCOLI.COM", ha="center",
         va="center", zorder=6, family="Liberation Sans", fontsize=8.1,
         weight="bold")

fig.savefig("out.png", dpi=100)
